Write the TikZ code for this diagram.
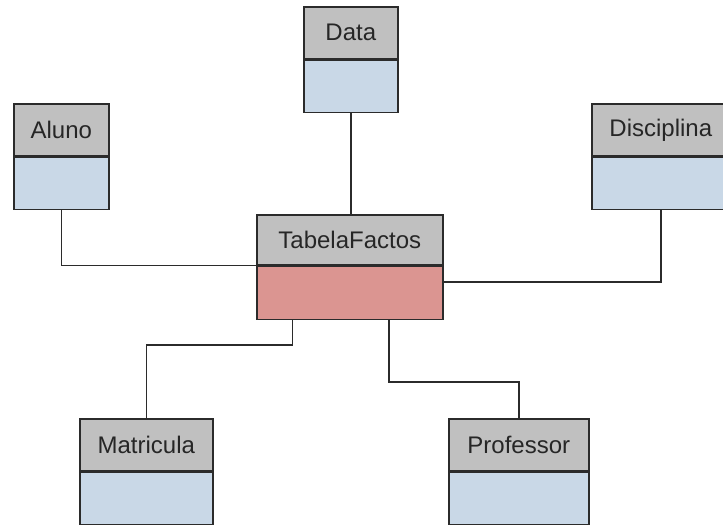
\documentclass[tikz,border=0pt]{standalone}
\usepackage{fontspec}
\setmainfont{Liberation Sans}
\usetikzlibrary{calc}
\definecolor{headgray}{HTML}{C0C0C0}
\definecolor{dimblue}{HTML}{C9D8E7}
\definecolor{factred}{HTML}{DB9591}
\definecolor{edge}{HTML}{2B2B2B}
\tikzset{
  tblhead/.style={draw=edge, fill=headgray, line width=1.6pt, inner sep=0pt,
    minimum height=52pt, anchor=north west, text=black!85,
    font=\fontsize{24}{28}\selectfont},
  tblbody/.style={draw=edge, fill=dimblue, line width=1.6pt, inner sep=0pt,
    minimum height=52pt, anchor=north},
  factbody/.style={tblbody, fill=factred},
  link/.style={draw=edge, line width=1.6pt}
}
\begin{document}
\begin{tikzpicture}[x=1pt, y=-1pt]
\useasboundingbox (0,0) rectangle (723,525);
\clip (0,0) rectangle (723,525);
\fill[white] (0,0) rectangle (723,525);

% dimension tables
\node[tblhead, minimum width=94pt] (dataH) at (303,6) {Data};
\node[tblbody, minimum width=94pt] (dataB) at (dataH.south) {};

\node[tblhead, minimum width=95pt] (alunoH) at (13,103) {Aluno};
\node[tblbody, minimum width=95pt] (alunoB) at (alunoH.south) {};

\node[tblhead, minimum width=138pt] (discH) at (591,103) {Disciplina};
\node[tblbody, minimum width=138pt] (discB) at (discH.south) {};

\node[tblhead, minimum width=133pt] (matH) at (79,418) {Matricula};
\node[tblbody, minimum width=133pt] (matB) at (matH.south) {};

\node[tblhead, minimum width=140pt] (profH) at (448,418) {Professor};
\node[tblbody, minimum width=140pt] (profB) at (profH.south) {};

% fact table
\node[tblhead, minimum width=186pt, minimum height=50pt] (factH) at (256,214) {TabelaFactos};
\node[factbody, minimum width=186pt, minimum height=53pt] (factB) at (factH.south) {};

% connection points on the fact table
\coordinate (fR) at ($(factB.north east)!0.3!(factB.south east)$);
\coordinate (fM) at ($(factB.south west)!0.195!(factB.south east)$);
\coordinate (fP) at ($(factB.south west)!0.71!(factB.south east)$);
\coordinate (mBend) at (fM |- 0,345);
\coordinate (pBend) at (fP |- 0,382);

% connectors
\draw[link] (dataB.south) -- (dataB.south |- factH.north);
\draw[link] (alunoB.south) |- (factB.north west);
\draw[link] (discB.south) |- (fR);
\draw[link] (fM) -- (mBend) -| (matH.north);
\draw[link] (fP) -- (pBend) -| (profH.north);
\end{tikzpicture}
\end{document}
